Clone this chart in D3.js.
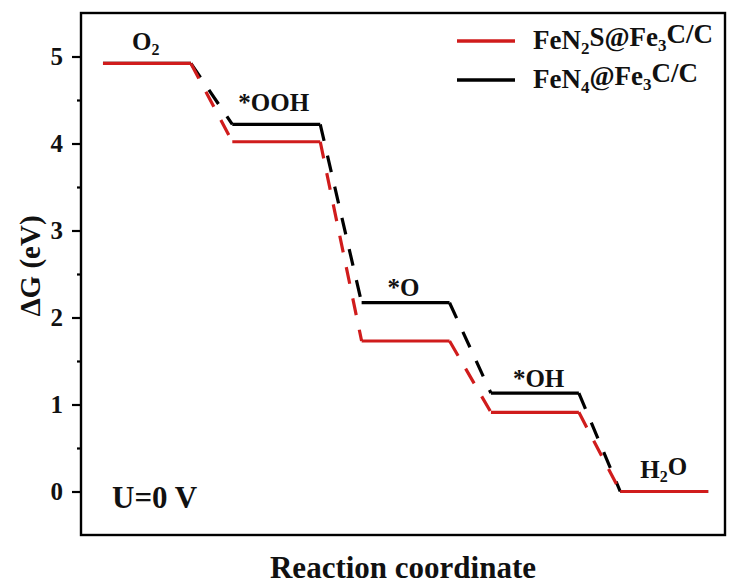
<!DOCTYPE html>
<html>
<head>
<meta charset="utf-8">
<script src="https://cdn.jsdelivr.net/npm/d3@7"></script>
<style>
  html, body { margin: 0; padding: 0; background: #fff; }
</style>
</head>
<body>
<svg id="chart" width="729" height="585"></svg>
<script>
// Reaction steps of the 4e- ORR pathway
const steps = ["O2", "*OOH", "*O", "*OH", "H2O"];
// Free energy of each intermediate at U = 0 V (eV)
const feN2S = [4.92, 4.02, 1.73, 0.91, 0];
const feN4  = [4.92, 4.22, 2.17, 1.13, 0];
const seriesNames = ["FeN2S@Fe3C/C", "FeN4@Fe3C/C"];
const yTicks = [0, 1, 2, 3, 4, 5];
const yMinorTicks = [0.5, 1.5, 2.5, 3.5, 4.5];

const W = 729, H = 585;
const plot = { left: 81, top: 13, right: 725, bottom: 535 };
const levelWidth = 0.68;
const colors = { red: "#d01c1c", black: "#000" };
const FONT = "'Liberation Serif', 'Times New Roman', Tinos, Times, serif";

const svg = d3.select("#chart")
  .style("font-family", FONT);

const x = d3.scaleLinear().domain([-0.17, 4.81]).range([plot.left, plot.right]);
const y = d3.scaleLinear().domain([-0.5, 5.5]).range([plot.bottom, plot.top]);

function label(sel) {
  return sel.style("font-family", FONT).style("font-weight", "bold").attr("fill", "#111");
}

// Y axis: major and minor ticks
const yAxis = svg.append("g")
  .attr("transform", `translate(${plot.left},0)`)
  .call(d3.axisLeft(y).tickValues(yTicks).tickSize(9).tickPadding(9).tickFormat(d3.format("d")));
yAxis.select(".domain").remove();
yAxis.selectAll(".tick line").attr("stroke", "#000").attr("stroke-width", 2.2);
label(yAxis.selectAll(".tick text")).style("font-size", "25px");

const yMinor = svg.append("g")
  .attr("transform", `translate(${plot.left},0)`)
  .call(d3.axisLeft(y).tickValues(yMinorTicks).tickSize(4).tickFormat(""));
yMinor.select(".domain").remove();
yMinor.selectAll(".tick line").attr("stroke", "#000").attr("stroke-width", 2.2);

// Plot frame
svg.append("rect")
  .attr("x", plot.left).attr("y", plot.top)
  .attr("width", plot.right - plot.left).attr("height", plot.bottom - plot.top)
  .attr("fill", "none").attr("stroke", "#000").attr("stroke-width", 2.4);

// Energy profile: dashed connectors between solid levels
function drawProfile(values, color) {
  const g = svg.append("g");
  const links = d3.range(values.length - 1).map(i => ({
    x1: i + levelWidth, y1: values[i], x2: i + 1, y2: values[i + 1]
  }));
  g.selectAll("line.link").data(links).join("line")
    .attr("class", "link")
    .attr("x1", d => x(d.x1)).attr("y1", d => y(d.y1))
    .attr("x2", d => x(d.x2)).attr("y2", d => y(d.y2))
    .attr("stroke", color).attr("stroke-width", 3.2)
    .attr("stroke-dasharray", "17,15");
  g.selectAll("line.level").data(values).join("line")
    .attr("class", "level")
    .attr("x1", (d, i) => x(i)).attr("x2", (d, i) => x(i + levelWidth))
    .attr("y1", d => y(d)).attr("y2", d => y(d))
    .attr("stroke", color).attr("stroke-width", 3.2);
}
drawProfile(feN4, colors.black);
drawProfile(feN2S, colors.red);

// Text with subscripted digits
function richText(sel, str, subSize) {
  const parts = str.match(/(\d+|[^\d]+)/g);
  let sub = false;
  parts.forEach(p => {
    const isDigit = /^\d+$/.test(p);
    const t = sel.append("tspan").text(p);
    if (isDigit && !sub) { t.attr("dy", "0.3em").style("font-size", subSize); sub = true; }
    else if (!isDigit && sub) { t.attr("dy", "-0.3em"); sub = false; }
  });
}

// Step labels above the upper level of each step
const labelOffsets = [[29, -13], [6, -13], [26, -7], [22, -6], [20, -14]];
steps.forEach((s, i) => {
  const top = Math.max(feN2S[i], feN4[i]);
  const t = label(svg.append("text"))
    .attr("x", x(i) + labelOffsets[i][0])
    .attr("y", y(top) + labelOffsets[i][1])
    .style("font-size", "25px");
  richText(t, s, "16px");
});

// Legend
const legend = svg.append("g");
[colors.red, colors.black].forEach((c, i) => {
  const ly = 41 + i * 39;
  legend.append("line")
    .attr("x1", 457).attr("x2", 515).attr("y1", ly).attr("y2", ly)
    .attr("stroke", c).attr("stroke-width", 3.6);
  const t = label(legend.append("text"))
    .attr("x", 533).attr("y", ly + 8)
    .style("font-size", "27px");
  richText(t, seriesNames[i], "17px");
});

// Potential note
label(svg.append("text"))
  .attr("x", 112).attr("y", 508)
  .style("font-size", "31px")
  .text("U=0 V");

// Axis titles
label(svg.append("text"))
  .attr("x", (plot.left + plot.right) / 2).attr("y", 578)
  .attr("text-anchor", "middle")
  .style("font-size", "31px")
  .text("Reaction coordinate");

label(svg.append("text"))
  .attr("transform", `translate(40,266) rotate(-90)`)
  .attr("text-anchor", "middle")
  .style("font-size", "29px")
  .text("ΔG (eV)");
</script>
</body>
</html>
